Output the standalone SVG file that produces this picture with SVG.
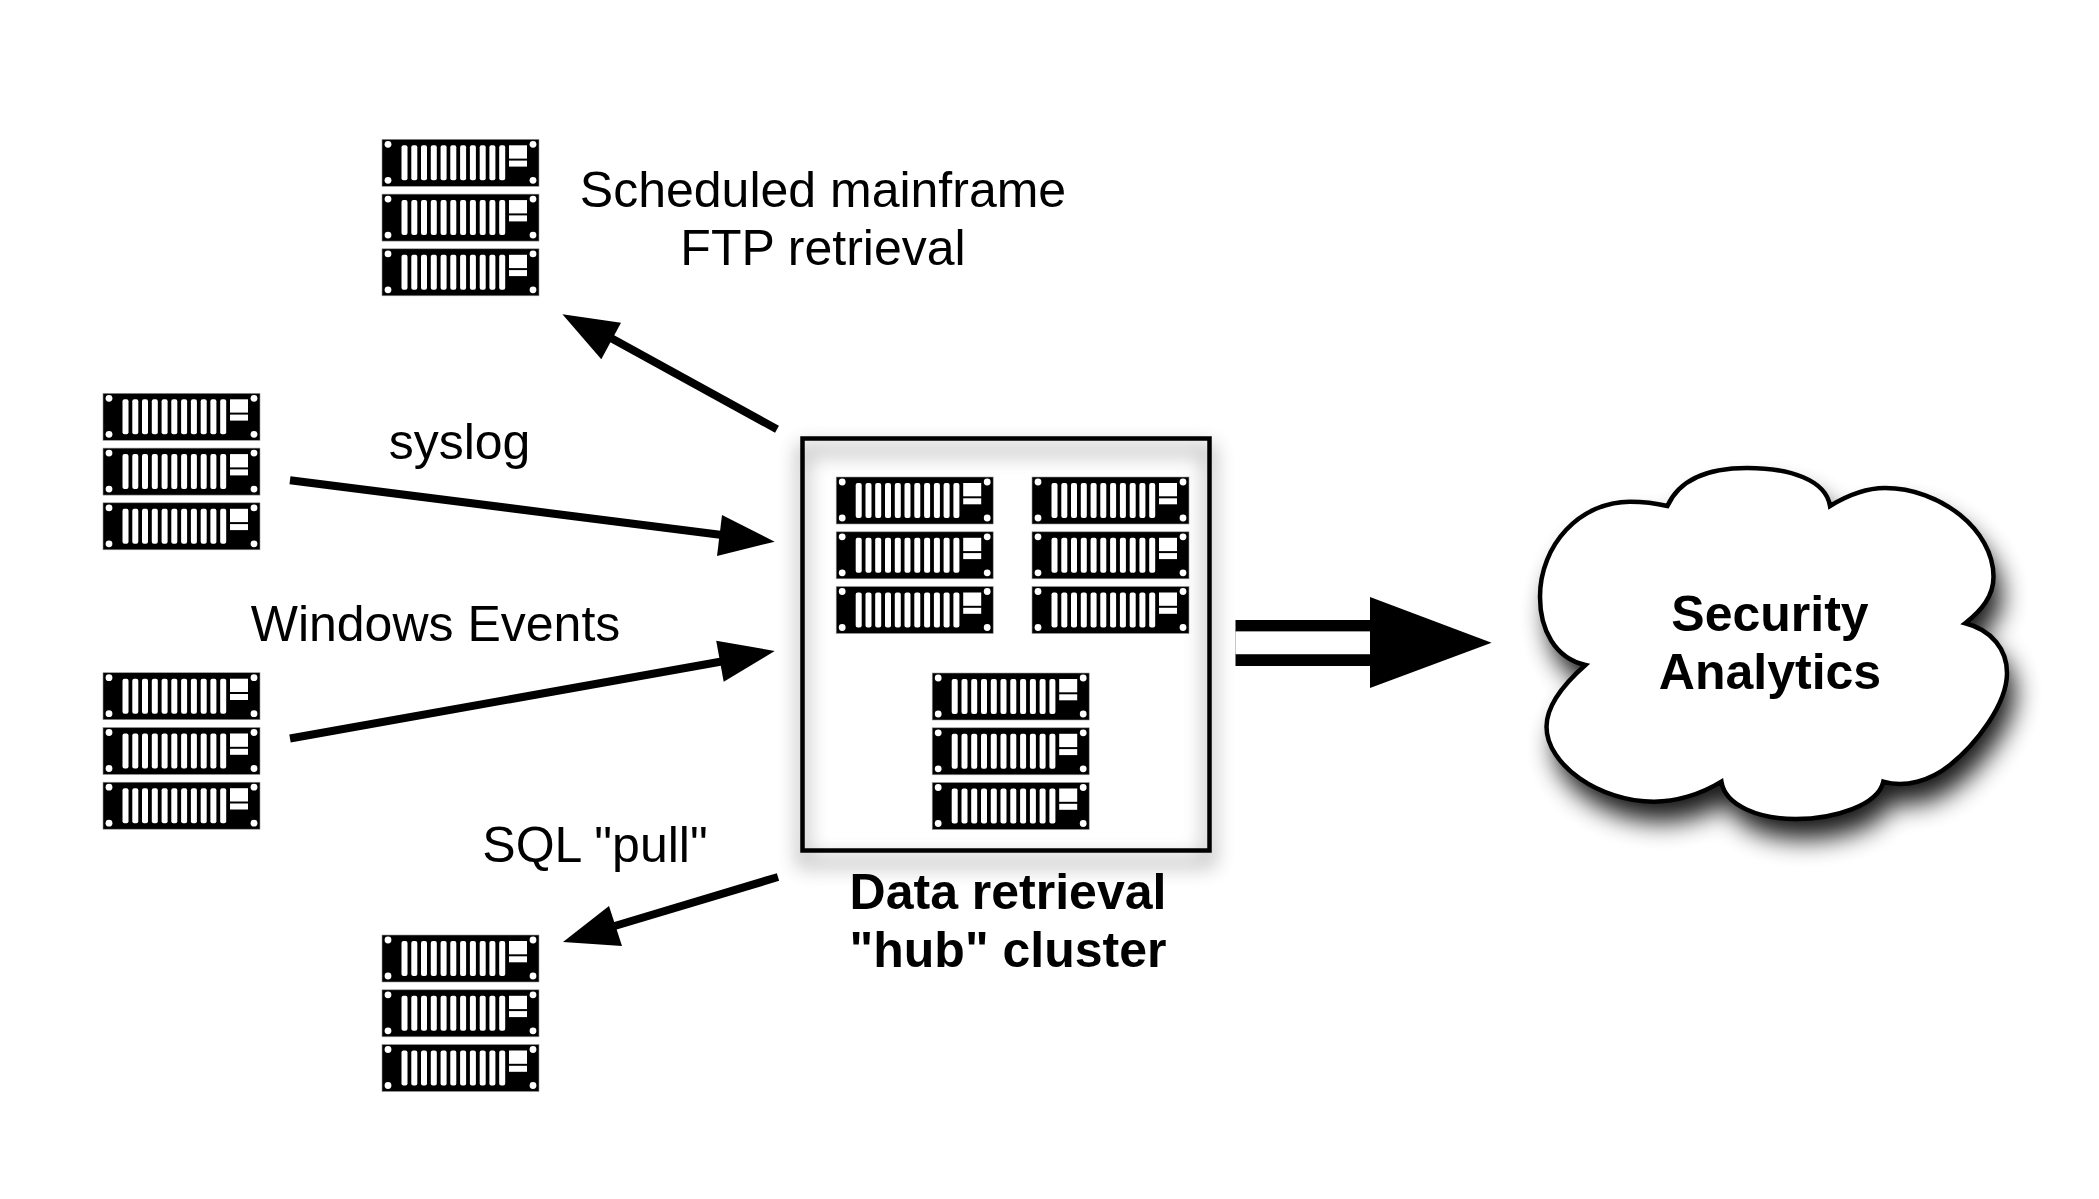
<svg xmlns="http://www.w3.org/2000/svg" width="2099" height="1199" viewBox="0 0 2099 1199">
<style>
text{font-family:"Liberation Sans",Arial,sans-serif;font-size:50px;fill:#000;text-anchor:middle}
.b{font-weight:bold}
.shaft{stroke:#000;stroke-width:8;fill:none}
.head{fill:#000;stroke:none}
.w{fill:#fff}
</style>
<defs>
<filter id="boxShadow" x="-15%" y="-15%" width="130%" height="130%"><feGaussianBlur stdDeviation="10"/></filter>
<filter id="cloudShadow" x="-15%" y="-15%" width="130%" height="130%"><feGaussianBlur stdDeviation="13"/></filter>
<g id="unit">
<rect width="157" height="47" fill="#000" stroke="#999" stroke-width=".6"/>
<circle class="w" cx="6" cy="5" r="3.4"/><circle class="w" cx="6" cy="41" r="3.4"/>
<circle class="w" cx="151" cy="5" r="3.4"/><circle class="w" cx="151" cy="41" r="3.4"/>
<rect class="w" x="19.5" y="6" width="6" height="35" rx="2"/><rect class="w" x="29.3" y="6" width="6" height="35" rx="2"/>
<rect class="w" x="39" y="6" width="6" height="35" rx="2"/><rect class="w" x="48.8" y="6" width="6" height="35" rx="2"/>
<rect class="w" x="58.6" y="6" width="6" height="35" rx="2"/><rect class="w" x="68.3" y="6" width="6" height="35" rx="2"/>
<rect class="w" x="78.1" y="6" width="6" height="35" rx="2"/><rect class="w" x="87.9" y="6" width="6" height="35" rx="2"/>
<rect class="w" x="97.7" y="6" width="6" height="35" rx="2"/><rect class="w" x="107.4" y="6" width="6" height="35" rx="2"/>
<rect class="w" x="117.2" y="6" width="6" height="35" rx="2"/>
<rect class="w" x="127" y="6" width="18" height="13.3"/><rect class="w" x="127" y="21.3" width="18" height="6"/>
</g>
<g id="server"><use href="#unit"/><use href="#unit" y="54.8"/><use href="#unit" y="109.5"/></g>
<path id="cloudPath" d="M1667.4 506C1681 476 1715 468 1747.3 468C1790 468 1826 480 1830 506C1848 495 1866 488 1885 488C1940 488 1993.5 530 1993.5 576.7C1993.5 596 1982 610 1965.2 623.3C1992 630 2007 650 2007 673C2007 705 1975 745 1950 765C1930 781 1905 788 1883.3 781.7C1878 805 1835 819 1795.5 819C1760 819 1725 806 1721.4 781.7C1700 795 1675 801.7 1654 801.7C1600 801.7 1546.5 765 1546.5 726.7C1546.5 705 1565 683 1585.4 665C1555 658 1540 630 1540 596.7C1540 545 1580 501.7 1630 501.7C1645 501.7 1655 503 1667.4 506Z"/>
</defs>

<g id="cluster-box">
<rect x="802.5" y="450" width="407" height="412" fill="none" stroke="#000" stroke-width="10" opacity=".3" filter="url(#boxShadow)"/>
<rect x="802.5" y="438.5" width="407" height="412" fill="none" stroke="#000" stroke-width="4.5"/>
</g>

<g id="connectors">
<line class="shaft" x1="777" y1="429.3" x2="600" y2="332"/>
<polygon class="head" points="562.4,314.3 621,322.7 601.3,359.3"/>
<line class="shaft" x1="290" y1="480.3" x2="730" y2="536"/>
<polygon class="head" points="774.7,541.7 722,515 717,556"/>
<line class="shaft" x1="290" y1="738.5" x2="730" y2="660"/>
<polygon class="head" points="774.7,651 716.2,640.7 723.7,681.7"/>
<line class="shaft" x1="778" y1="877" x2="608" y2="928"/>
<polygon class="head" points="563,942 609,906 622,946"/>
<rect x="1235.5" y="631" width="135" height="23.5" fill="#fff" stroke="#bbb" stroke-width=".8"/>
<rect class="head" x="1235.5" y="620" width="135" height="11.3"/>
<rect class="head" x="1235.5" y="654.3" width="135" height="11.7"/>
<polygon class="head" points="1491.6,642.7 1370,597 1370,688"/>
</g>

<g id="server-mainframe"><use href="#server" x="382" y="139.3"/></g>
<g id="server-syslog"><use href="#server" x="103" y="393.3"/></g>
<g id="server-windows"><use href="#server" x="103" y="672.7"/></g>
<g id="server-sql"><use href="#server" x="382" y="935"/></g>
<g id="hub-server-1"><use href="#server" x="836.2" y="477"/></g>
<g id="hub-server-2"><use href="#server" x="1032" y="477"/></g>
<g id="hub-server-3"><use href="#server" x="932.2" y="673"/></g>

<g id="cloud">
<use href="#cloudPath" fill="#000" opacity=".9" transform="translate(8 20)" filter="url(#cloudShadow)"/>
<use href="#cloudPath" fill="#fff" stroke="#000" stroke-width="4.5" stroke-linejoin="miter"/>
<text class="b" x="1770" y="631">Security</text>
<text class="b" x="1770" y="689">Analytics</text>
</g>

<g id="labels">
<text x="823" y="206.5">Scheduled mainframe</text>
<text x="823" y="264.5">FTP retrieval</text>
<text x="459.5" y="459">syslog</text>
<text x="435.5" y="641">Windows Events</text>
<text x="595" y="862">SQL "pull"</text>
<text class="b" x="1008" y="908.5">Data retrieval</text>
<text class="b" x="1008" y="966.5">"hub" cluster</text>
</g>
</svg>
